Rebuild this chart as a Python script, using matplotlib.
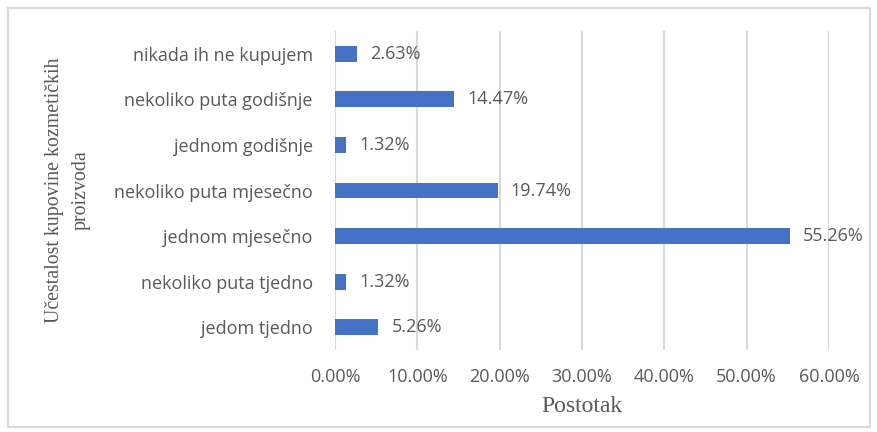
import matplotlib.pyplot as plt
from matplotlib.patches import Rectangle
from matplotlib.ticker import FuncFormatter

# survey categories (bottom to top) and shares in percent
categories = [
    "jedom tjedno",
    "nekoliko puta tjedno",
    "jednom mjesečno",
    "nekoliko puta mjesečno",
    "jednom godišnje",
    "nekoliko puta godišnje",
    "nikada ih ne kupujem",
]
values = [5.26, 1.32, 55.26, 19.74, 1.32, 14.47, 2.63]
x_ticks = [0, 10, 20, 30, 40, 50, 60]

grey = "#595959"
sans = "Open Sans"
serif = "Liberation Serif"

fig = plt.figure(figsize=(8.77, 4.32), dpi=100)
ax = fig.add_axes([335 / 877, 1 - 350 / 432, (829 - 335) / 877, (350 - 31) / 432])

ypos = range(len(categories))
ax.barh(ypos, values, height=0.35, color="#4472C4", zorder=3)

# data labels
for y, v in zip(ypos, values):
    ax.text(v + 1.6, y, f"{v:.2f}%", va="center", ha="left",
            fontsize=13, color=grey, family=sans, zorder=4)

ax.set_xlim(0, 60)
ax.set_ylim(-0.5, len(categories) - 0.5)
ax.set_xticks(x_ticks)
ax.xaxis.set_major_formatter(FuncFormatter(lambda v, p: f"{v:.2f}%"))
ax.set_yticks(list(ypos))
ax.set_yticklabels(categories)

ax.grid(axis="x", color="#d9d9d9", linewidth=1.5, zorder=0)
for s in ax.spines.values():
    s.set_visible(False)
ax.tick_params(length=0, labelsize=13, labelcolor=grey)
ax.tick_params(axis="y", pad=16)
ax.tick_params(axis="x", pad=13)
for lbl in ax.get_xticklabels() + ax.get_yticklabels():
    lbl.set_family(sans)

ax.set_xlabel("Postotak", fontsize=17, color=grey, family=serif, labelpad=7)
fig.text(68 / 877, 1 - 190 / 432, "Učestalost kupovine kozmetičkih\nproizvoda",
         rotation=90, ha="center", va="center", multialignment="center",
         fontsize=14.3, color=grey, family=serif, linespacing=1.5)

# chart area border
fig.patches.append(Rectangle((8 / 877, 5 / 432), 862 / 877, 419 / 432,
                             transform=fig.transFigure, fill=False,
                             edgecolor="#d9d9d9", linewidth=1.5))

fig.savefig("out.png", dpi=100)
